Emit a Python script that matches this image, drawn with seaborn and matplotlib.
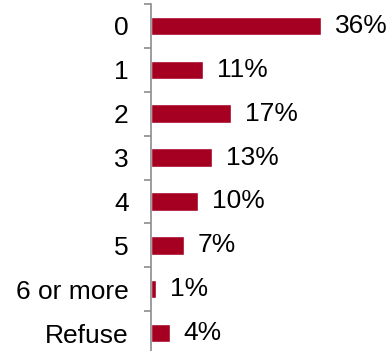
import numpy as np
import pandas as pd
import matplotlib
matplotlib.use("Agg")
import matplotlib.pyplot as plt
import seaborn as sns

categories = ["0", "1", "2", "3", "4", "5", "6 or more", "Refuse"]
values = [36, 11, 17, 13, 10, 7, 1, 4]
value_labels = ["36%", "11%", "17%", "13%", "10%", "7%", "1%", "4%"]

bar_color = "#A50021"
axis_color = "#8C8C8C"


def main():
    sns.set_style("white")
    plt.rcParams["font.family"] = ["Liberation Sans", "DejaVu Sans"]

    df = pd.DataFrame({"category": categories, "value": values})

    fig = plt.figure(figsize=(3.91, 3.51), dpi=100)
    ax = fig.add_axes([151 / 391, -4 / 351, 240 / 391, 351 / 351])

    sns.barplot(data=df, x="value", y="category", order=categories,
                color=bar_color, width=0.42, saturation=1, ax=ax)

    for i, (v, lab) in enumerate(zip(values, value_labels)):
        ax.annotate(lab, xy=(v, i), xytext=(10, 0), textcoords="offset points",
                    va="center", ha="left", fontsize=19, color="black")

    ax.set_xlim(0, 50.8)
    ax.set_ylim(len(categories) - 0.5, -0.5)
    ax.set_xlabel("")
    ax.set_ylabel("")
    ax.set_xticks([])

    for side in ["top", "right", "bottom"]:
        ax.spines[side].set_visible(False)
    ax.spines["left"].set_color(axis_color)
    ax.spines["left"].set_linewidth(1.2)

    ax.set_yticks(np.arange(-0.5, len(categories), 1.0), minor=True)
    ax.tick_params(axis="y", which="major", length=0, pad=16, labelsize=19,
                   labelcolor="black")
    ax.tick_params(axis="y", which="minor", length=5, width=1.2,
                   color=axis_color, direction="out", left=True)

    fig.savefig("out.png", dpi=100)


if __name__ == "__main__":
    main()
